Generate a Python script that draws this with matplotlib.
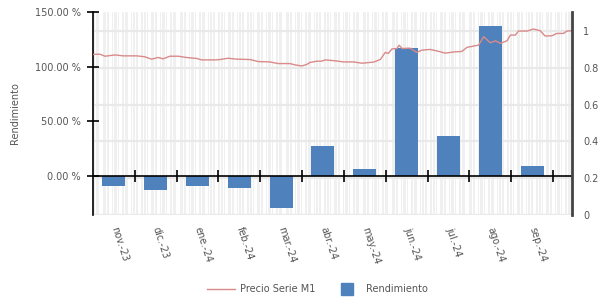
import numpy as np
import matplotlib
matplotlib.use("Agg")
import matplotlib.pyplot as plt
from matplotlib.lines import Line2D

# ---- data ----
meses = ["nov.-23", "dic.-23", "ene.-24", "feb.-24", "mar.-24", "abr.-24",
         "may.-24", "jun.-24", "jul.-24", "ago.-24", "sep.-24"]
rendimiento = [-9.8, -13.5, -9.8, -11.3, -30.0, 26.9, 6.1, 117.0, 36.7, 138.0, 8.5]

# price series: position in months (category units) and value (right axis)
precio_mes = [-0.49, -0.33, -0.21, 0.03, 0.22, 0.55, 0.74, 0.90, 1.06, 1.18, 1.34, 1.54,
              1.74, 1.98, 2.10, 2.42, 2.54, 2.73, 2.94, 3.26, 3.45, 3.73, 3.93, 4.21,
              4.33, 4.49, 4.61, 4.69, 4.85, 4.97, 5.05, 5.29, 5.49, 5.73, 5.93, 6.21,
              6.37, 6.49, 6.56, 6.65, 6.77, 6.82, 6.89, 7.08, 7.24, 7.36, 7.56, 7.72,
              7.92, 8.16, 8.32, 8.44, 8.64, 8.72, 8.84, 9.00, 9.12, 9.24, 9.40, 9.48,
              9.60, 9.67, 9.88, 10.03, 10.19, 10.31, 10.47, 10.59, 10.75, 10.83, 10.98]
precio_valor = [0.873, 0.874, 0.863, 0.870, 0.865, 0.865, 0.860, 0.847, 0.856, 0.849, 0.863, 0.863,
                0.856, 0.851, 0.843, 0.843, 0.845, 0.852, 0.847, 0.845, 0.834, 0.832, 0.823, 0.823,
                0.816, 0.810, 0.818, 0.829, 0.836, 0.836, 0.843, 0.838, 0.832, 0.832, 0.825, 0.831,
                0.845, 0.884, 0.878, 0.903, 0.905, 0.923, 0.905, 0.907, 0.884, 0.896, 0.900, 0.892,
                0.880, 0.887, 0.889, 0.911, 0.920, 0.923, 0.969, 0.936, 0.947, 0.933, 0.947, 0.978,
                0.978, 1.000, 1.000, 1.011, 1.002, 0.973, 0.974, 0.987, 0.987, 1.000, 1.002]

left_ticks = [0, 50, 100, 150]
right_ticks = [0, 0.2, 0.4, 0.6, 0.8, 1.0]
right_labels = ["0", "0.2", "0.4", "0.6", "0.8", "1"]

# ---- style ----
plt.rcParams['font.family'] = ['DejaVu Sans']
txt = "#555555"
bar_color = "#4f81bd"
line_color = "#d98a8a"

fig = plt.figure(figsize=(6.11, 2.98), dpi=100)
ax = fig.add_axes([0.152, 0.279, 0.784, 0.681])
x = np.arange(len(meses))
xlim = (-0.5, len(meses) - 0.5 + 0.45)

# background / grid layer
axg = ax.twinx()
axg.set_zorder(0)
ax.set_zorder(1)
ax.patch.set_visible(False)
axg.set_facecolor("#dfdfdf")
axg.set_xlim(*xlim)
axg.set_ylim(0, 1.104)
# daily (weekday) light vertical lines
days = np.arange(0, 350)
day_pos = xlim[0] + days / 30.4
for d, p in zip(days, day_pos):
    if d % 7 < 5 and p < xlim[1]:
        axg.axvline(p, color="#e5e5e5", lw=0.4, zorder=0)
for yv in right_ticks:
    axg.axhline(yv, color="#e9e9e9", lw=1.6, zorder=1)
axg.set_yticks([])
for s in axg.spines.values():
    s.set_visible(False)

# bars
ax.bar(x, rendimiento, width=0.55, color=bar_color, zorder=2)
ax.set_xlim(*xlim)
ax.set_ylim(-36, 150.5)
ax.set_yticks(left_ticks)
ax.set_yticklabels([f"{v:.2f} %" for v in left_ticks], color=txt, fontsize=7)
ax.tick_params(axis="y", direction="inout", length=9, width=1.2, color="black", pad=4)
ax.set_ylabel("Rendimiento", color=txt, fontsize=7, labelpad=11)
for s in ["top", "right"]:
    ax.spines[s].set_visible(False)
ax.spines["left"].set_color("black")
ax.spines["left"].set_linewidth(1.2)
ax.spines["bottom"].set_position(("data", 0))
ax.spines["bottom"].set_color("black")
ax.spines["bottom"].set_linewidth(1.2)
ax.set_xticks(x)
ax.set_xticklabels(meses, rotation=-72, rotation_mode="anchor", ha="left", va="center",
                   color=txt, fontsize=7)
ax.tick_params(axis="x", which="major", length=0, pad=37)
ax.set_xticks(np.arange(0.5, len(meses) - 0.5 + 0.01, 1.0), minor=True)
ax.tick_params(axis="x", which="minor", direction="inout", length=9, width=1.2, color="black")

# line on right axis
ax2 = ax.twinx()
ax2.set_zorder(2)
ax2.patch.set_visible(False)
ax2.plot(precio_mes, precio_valor, color=line_color, lw=1.0)
ax2.set_xlim(*xlim)
ax2.set_ylim(0, 1.104)
ax2.set_yticks(right_ticks)
ax2.set_yticklabels(right_labels, color=txt, fontsize=7)
ax2.tick_params(axis="y", length=0, pad=8)
for s in ["top", "left", "bottom"]:
    ax2.spines[s].set_visible(False)
ax2.spines["right"].set_color("#444444")
ax2.spines["right"].set_linewidth(2)

handles = [Line2D([0], [0], color=line_color, lw=1.0),
           Line2D([0], [0], color=bar_color, lw=0, marker="s", markersize=8)]
leg = fig.legend(handles, ["Precio Serie M1", "Rendimiento"], loc="center",
                 bbox_to_anchor=(0.52, 0.03), ncol=2, frameon=False, fontsize=7,
                 handlelength=2.8, columnspacing=1.8, handletextpad=0.6)
for t in leg.get_texts():
    t.set_color(txt)

fig.savefig("out.png", dpi=100)
